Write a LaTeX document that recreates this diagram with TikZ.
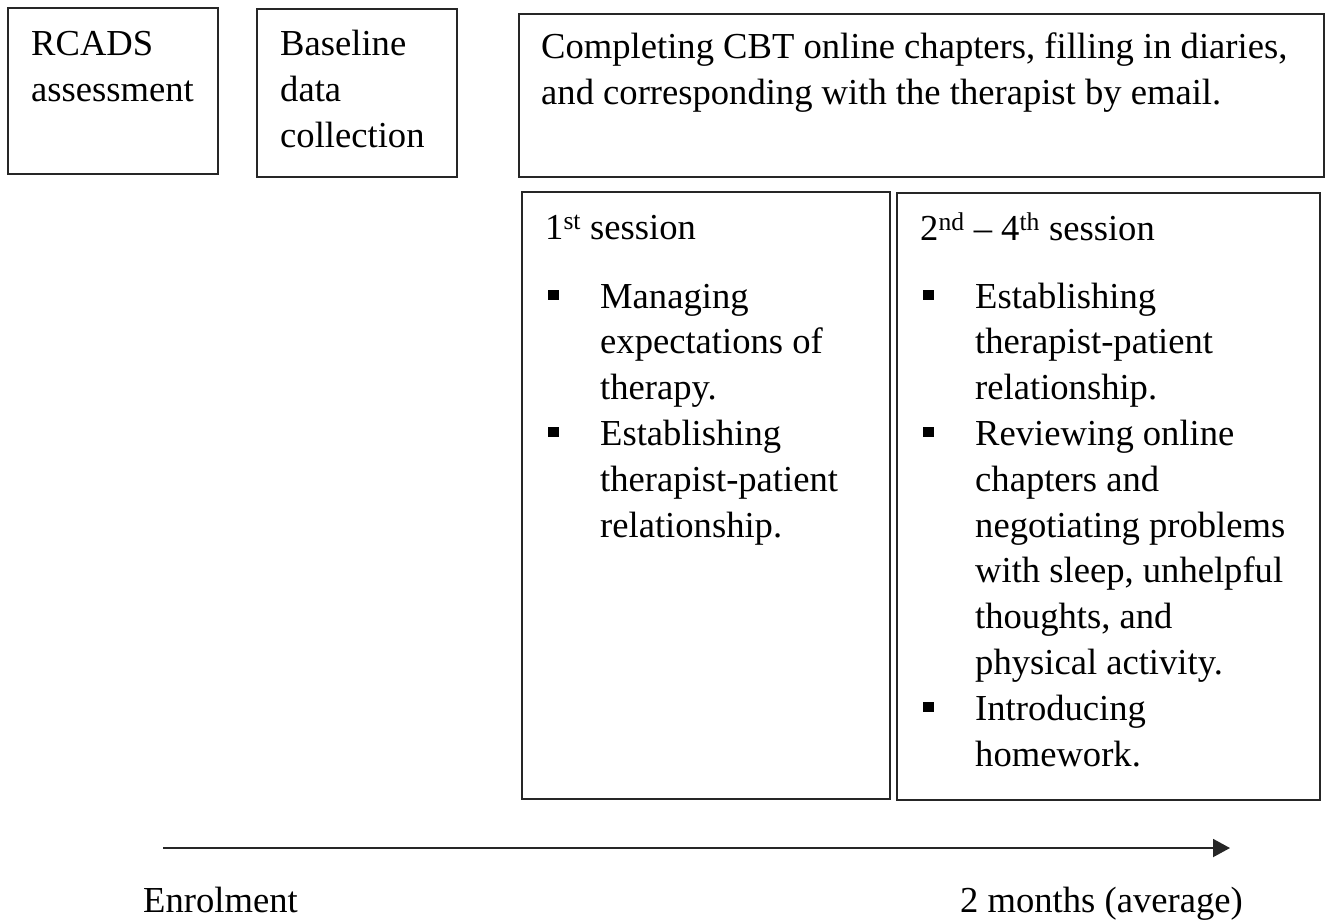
\documentclass[tikz,border=0pt]{standalone}
\usepackage{fontspec}
\setmainfont{Liberation Serif}
\usetikzlibrary{arrows.meta}
\newcommand\sqb{\rule[8pt]{10.5pt}{10.5pt}}
\newcommand\bl{\makebox[52pt][l]{\sqb}}
\newcommand\ind{\hspace*{52pt}}
\begin{document}
\begin{tikzpicture}[x=1pt,y=-1pt,
  box/.style={draw=black!85, line width=1.9pt, anchor=north west, inner sep=0pt},
  txt/.style={anchor=base west, inner sep=0pt, align=left, font=\fontsize{36.6}{45.8}\selectfont}]
\useasboundingbox (0,0) rectangle (1327,922);
% boxes
\node[box, minimum width=210, minimum height=166] (rcads) at (7,7) {};
\node[box, minimum width=200, minimum height=168] (base) at (256,8) {};
\node[box, minimum width=805, minimum height=163] (cbt) at (518,13) {};
\node[box, minimum width=368, minimum height=607] (s1) at (521,191) {};
\node[box, minimum width=423, minimum height=607] (s2) at (896,192) {};
% texts (anchored at the baseline of their last line)
\node[txt] (trcads) at (31,101) {RCADS\\assessment};
\node[txt] (tbase) at (280,147) {Baseline\\data\\collection};
\node[txt] (tcbt) at (541,104) {Completing CBT online chapters, filling in diaries,\\and corresponding with the therapist by email.};
\node[txt] (ts1h) at (545,239) {1\textsuperscript{st} session};
\node[txt] (ts1) at (548,537) {\bl Managing\\\ind expectations of\\\ind therapy.\\\bl Establishing\\\ind therapist-patient\\\ind relationship.};
\node[txt] (ts2h) at (920,240) {2\textsuperscript{nd} – 4\textsuperscript{th} session};
\node[txt] (ts2) at (923,766) {\bl Establishing\\\ind therapist-patient\\\ind relationship.\\\bl Reviewing online\\\ind chapters and\\\ind negotiating problems\\\ind with sleep, unhelpful\\\ind thoughts, and\\\ind physical activity.\\\bl Introducing\\\ind homework.};
% timeline
\coordinate (a0) at (163,848);
\coordinate (a1) at (1230,848);
\draw[line width=1.9pt, draw=black!85, -{Triangle[length=17pt,width=18pt]}] (a0) -- (a1);
\node[txt] (enr) at (143,912) {Enrolment};
\node[txt] (mon) at (960,912) {2 months (average)};
\end{tikzpicture}
\end{document}
